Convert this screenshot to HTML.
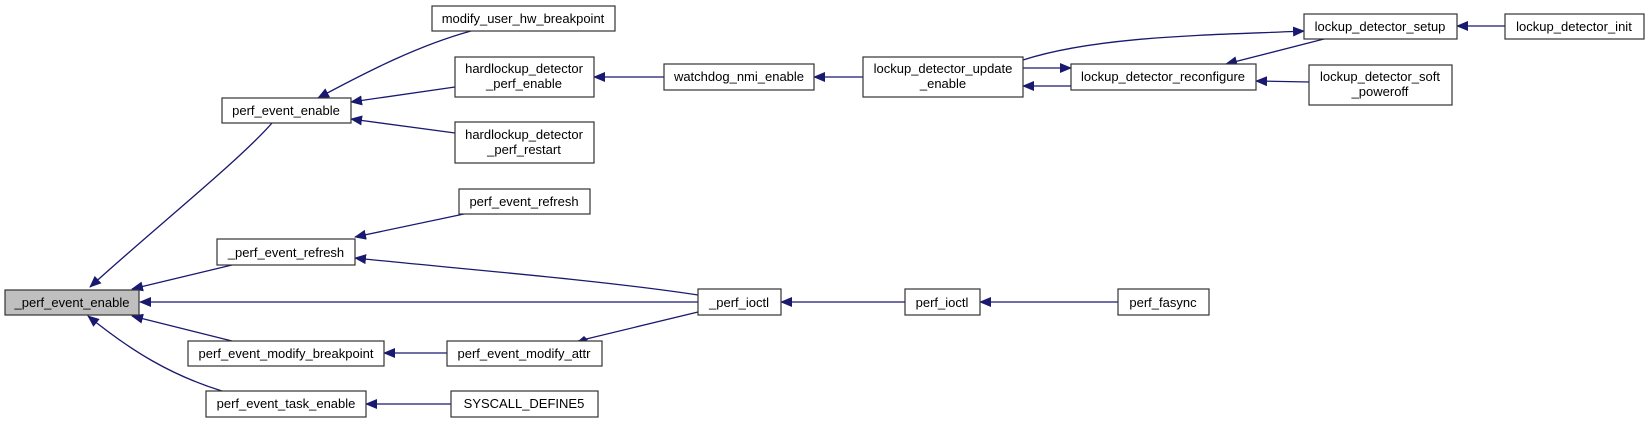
<!DOCTYPE html>
<html><head><meta charset="utf-8"><style>body{margin:0;background:#fff}svg{display:block}</style></head><body>
<svg width="1649" height="423" viewBox="0 0 1649 423" xmlns="http://www.w3.org/2000/svg" font-family="Liberation Sans, sans-serif" font-size="13">
<defs><marker id="a" markerWidth="12" markerHeight="10" refX="11" refY="5" orient="auto" markerUnits="userSpaceOnUse"><path d="M0,0 L12,5 L0,10 z" fill="#191970"/></marker></defs>
<g fill="none" stroke="#191970" stroke-width="1.3" marker-end="url(#a)">
<path d="M272,123 C240,160 150,232 90,287"/>
<path d="M232,265 L132,289"/>
<path d="M698,302 L140,302"/>
<path d="M232,341 L132,316"/>
<path d="M222,391 C170,375 130,350 88,316"/>
<path d="M471,31 C420,45 370,70 318,98"/>
<path d="M455,87 L351,102"/>
<path d="M455,133 L351,119"/>
<path d="M664,77 L594,77"/>
<path d="M863,77 L814,77"/>
<path d="M1023,68 L1071,68"/>
<path d="M1071,86 L1023,86"/>
<path d="M1023,60 C1100,35 1220,35 1304,31"/>
<path d="M1324,39 L1226,64"/>
<path d="M1505,26 L1457,26"/>
<path d="M1309,82 L1256,81"/>
<path d="M464,214 L355,237"/>
<path d="M698,295 C600,280 450,268 355,258"/>
<path d="M578,341 L698,312" marker-end="none"/>
<path d="M447,353 L384,353"/>
<path d="M451,404 L366,404"/>
<path d="M905,302 L781,302"/>
<path d="M1118,302 L980,302"/>
</g>
<path d="M588,340 L576,343 L584,336 z" fill="#191970"/>
<g stroke="#333" stroke-width="1.2" fill="#fff">
<rect x="5" y="290" width="134" height="25" fill="#bfbfbf"/>
<rect x="222" y="98" width="129" height="25"/>
<rect x="217" y="239" width="138" height="26"/>
<rect x="188" y="341" width="196" height="25"/>
<rect x="206" y="391" width="160" height="26"/>
<rect x="432" y="6" width="183" height="25"/>
<rect x="455" y="57" width="139" height="40"/>
<rect x="455" y="122" width="139" height="41"/>
<rect x="459" y="189" width="131" height="25"/>
<rect x="447" y="341" width="155" height="25"/>
<rect x="451" y="391" width="147" height="26"/>
<rect x="664" y="64" width="150" height="26"/>
<rect x="863" y="57" width="160" height="40"/>
<rect x="1071" y="64" width="185" height="26"/>
<rect x="1304" y="14" width="153" height="25"/>
<rect x="1505" y="14" width="139" height="25"/>
<rect x="1309" y="65" width="143" height="40"/>
<rect x="698" y="289" width="83" height="26"/>
<rect x="905" y="289" width="75" height="26"/>
<rect x="1118" y="289" width="91" height="26"/>
</g>
<g fill="#000" text-anchor="middle">
<text x="72" y="307">_perf_event_enable</text>
<text x="286" y="115">perf_event_enable</text>
<text x="286" y="257">_perf_event_refresh</text>
<text x="286" y="358">perf_event_modify_breakpoint</text>
<text x="286" y="408">perf_event_task_enable</text>
<text x="523" y="23">modify_user_hw_breakpoint</text>
<text x="524" y="73">hardlockup_detector</text>
<text x="524" y="88">_perf_enable</text>
<text x="524" y="139">hardlockup_detector</text>
<text x="524" y="154">_perf_restart</text>
<text x="524" y="206">perf_event_refresh</text>
<text x="524" y="358">perf_event_modify_attr</text>
<text x="524" y="408">SYSCALL_DEFINE5</text>
<text x="739" y="81">watchdog_nmi_enable</text>
<text x="943" y="73">lockup_detector_update</text>
<text x="943" y="88">_enable</text>
<text x="1163" y="81">lockup_detector_reconfigure</text>
<text x="1380" y="31">lockup_detector_setup</text>
<text x="1574" y="31">lockup_detector_init</text>
<text x="1380" y="81">lockup_detector_soft</text>
<text x="1380" y="96">_poweroff</text>
<text x="739" y="307">_perf_ioctl</text>
<text x="942" y="307">perf_ioctl</text>
<text x="1163" y="307">perf_fasync</text>
</g>
</svg>
</body></html>
